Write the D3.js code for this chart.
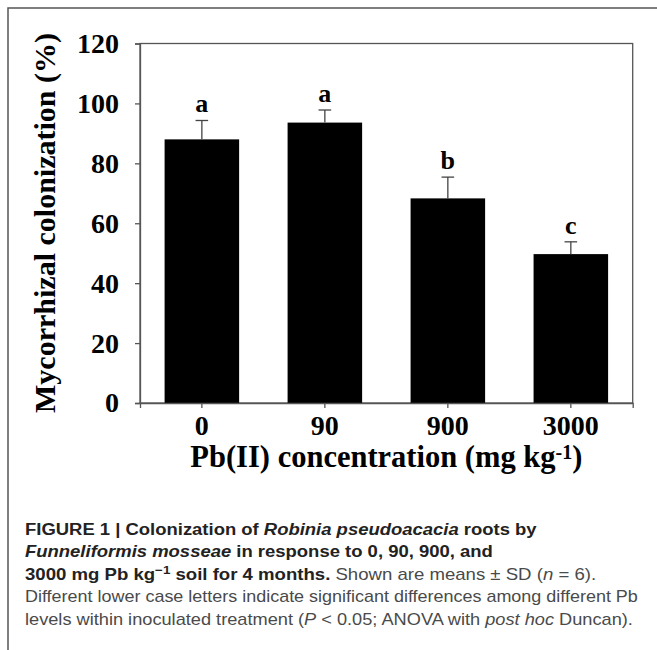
<!DOCTYPE html>
<html lang="en">
<head>
<meta charset="UTF-8">
<title>Mycorrhizal colonization</title>
<script src="https://d3js.org/d3.v7.min.js"></script>
<style>
  body { margin: 0; background: #fff; }
  svg { display: block; }
</style>
</head>
<body>
<div id="chart"></div>
<script>
// data
var levels = ["0", "90", "900", "3000"];
var means = [88.0, 93.6, 68.3, 49.7];
var sds = [6.3, 4.2, 7.1, 4.1];
var letters = ["a", "a", "b", "c"];
var yTicks = [0, 20, 40, 60, 80, 100, 120];

var W = 657, H = 650;
var plot = {left: 140, top: 43.5, right: 632.7, bottom: 403};

var svg = d3.select("#chart").append("svg")
    .attr("width", W)
    .attr("height", H);

// outer figure frame (cropped at right/bottom)
svg.append("path")
    .attr("d", "M" + W + ",8H8V" + H)
    .attr("fill", "none")
    .attr("stroke", "#555")
    .attr("stroke-width", 1.5);

var x = d3.scaleBand()
    .domain(levels)
    .range([plot.left, plot.right])
    .paddingInner(0.394)
    .paddingOuter(0.2);

var y = d3.scaleLinear()
    .domain([0, 120])
    .range([plot.bottom, plot.top]);

// plot box
svg.append("rect")
    .attr("x", plot.left)
    .attr("y", plot.top)
    .attr("width", plot.right - plot.left)
    .attr("height", plot.bottom - plot.top)
    .attr("fill", "none")
    .attr("stroke", "#555")
    .attr("stroke-width", 1.3);

// bars
svg.selectAll(".bar")
    .data(means)
    .enter().append("rect")
    .attr("class", "bar")
    .attr("x", function(d, i) { return x(levels[i]); })
    .attr("y", function(d) { return y(d); })
    .attr("width", x.bandwidth())
    .attr("height", function(d) { return y(0) - y(d); })
    .attr("fill", "#000");

// error bars
var eb = svg.selectAll(".err")
    .data(means)
    .enter().append("g")
    .attr("class", "err")
    .attr("stroke", "#444")
    .attr("stroke-width", 1.3);
eb.append("line")
    .attr("x1", function(d, i) { return x(levels[i]) + x.bandwidth() / 2; })
    .attr("x2", function(d, i) { return x(levels[i]) + x.bandwidth() / 2; })
    .attr("y1", function(d) { return y(d); })
    .attr("y2", function(d, i) { return y(d + sds[i]); });
eb.append("line")
    .attr("x1", function(d, i) { return x(levels[i]) + x.bandwidth() / 2 - 6.3; })
    .attr("x2", function(d, i) { return x(levels[i]) + x.bandwidth() / 2 + 6.3; })
    .attr("y1", function(d, i) { return y(d + sds[i]); })
    .attr("y2", function(d, i) { return y(d + sds[i]); });

// significance letters
svg.selectAll(".sig")
    .data(means)
    .enter().append("text")
    .attr("class", "sig")
    .attr("x", function(d, i) { return x(levels[i]) + x.bandwidth() / 2; })
    .attr("y", function(d, i) { return y(d + sds[i]) - 8; })
    .attr("text-anchor", "middle")
    .style("font-family", "'Liberation Serif', 'Times New Roman', serif")
    .style("font-weight", "bold")
    .style("font-size", "26px")
    .text(function(d, i) { return letters[i]; });

// axes
var yAxis = svg.append("g")
    .attr("transform", "translate(" + plot.left + ",0)")
    .call(d3.axisLeft(y).tickValues(yTicks).tickSize(5).tickPadding(16));
var xAxis = svg.append("g")
    .attr("transform", "translate(0," + plot.bottom + ")")
    .call(d3.axisBottom(x).tickSize(5).tickPadding(0));

[yAxis, xAxis].forEach(function(ax) {
    ax.select(".domain").attr("stroke", "#555").attr("stroke-width", 1.3);
    ax.selectAll(".tick line").attr("stroke", "#555").attr("stroke-width", 1.3);
    ax.selectAll(".tick text")
        .attr("fill", "#000")
        .style("font-family", "'Liberation Serif', 'Times New Roman', serif")
        .style("font-weight", "bold")
        .style("font-size", "28px");
});
xAxis.selectAll(".tick text").attr("y", 32).attr("dy", 0);

// axis titles
svg.append("text")
    .attr("transform", "translate(55," + 223 + ") rotate(-90)")
    .attr("text-anchor", "middle")
    .style("font-family", "'Liberation Serif', 'Times New Roman', serif")
    .style("font-weight", "bold")
    .style("font-size", "30px")
    .text("Mycorrhizal colonization (%)");

var xt = svg.append("text")
    .attr("x", (plot.left + plot.right) / 2)
    .attr("y", 467)
    .attr("text-anchor", "middle")
    .style("font-family", "'Liberation Serif', 'Times New Roman', serif")
    .style("font-weight", "bold")
    .style("font-size", "30.5px");
xt.append("tspan").text("Pb(II) concentration (mg kg");
xt.append("tspan").attr("dy", -8).style("font-size", "20px").text("-1");
xt.append("tspan").attr("dy", 8).text(")");

// caption
var capFont = "'Liberation Sans', Arial, Helvetica, sans-serif";
var capLines = [
    [["FIGURE 1 | Colonization of ", "b"], ["Robinia pseudoacacia", "bi"], [" roots by", "b"]],
    [["Funneliformis mosseae", "bi"], [" in response to 0, 90, 900, and", "b"]],
    [["3000 mg Pb kg", "b"], ["\u22121", "bsup"], [" soil for 4 months.", "b"], [" Shown are means \u00b1 SD (", "r"], ["n", "i"], [" = 6).", "r"]],
    [["Different lower case letters indicate significant differences among different Pb", "r"]],
    [["levels within inoculated treatment (", "r"], ["P", "i"], [" < 0.05; ANOVA with ", "r"], ["post hoc", "i"], [" Duncan).", "r"]]
];
var capY = [535, 557.5, 580, 602.3, 625];
var capW = [511.7, 468.3, 571.7, 613.3, 608.3];
capLines.forEach(function(parts, li) {
    var g = svg.append("g");
    var t = g.append("text")
        .attr("x", 0)
        .attr("y", capY[li])
        .style("font-family", capFont)
        .style("font-size", "16px");
    var prevSup = false;
    parts.forEach(function(p) {
        var s = t.append("tspan").text(p[0]);
        var st = p[1];
        var bold = st.indexOf("b") >= 0;
        s.attr("fill", bold ? "#222" : "#4a4a4a");
        if (bold) s.style("font-weight", "bold");
        if (st.indexOf("i") >= 0) s.style("font-style", "italic");
        if (st === "bsup") s.attr("dy", -6).style("font-size", "11.5px");
        if (prevSup) s.attr("dy", 6);
        prevSup = st === "bsup";
    });
    // squeeze each line to the condensed caption face
    var sx = capW[li] / t.node().getComputedTextLength();
    g.attr("transform", "translate(25,0) scale(" + sx + ",1)");
});
</script>
</body>
</html>
